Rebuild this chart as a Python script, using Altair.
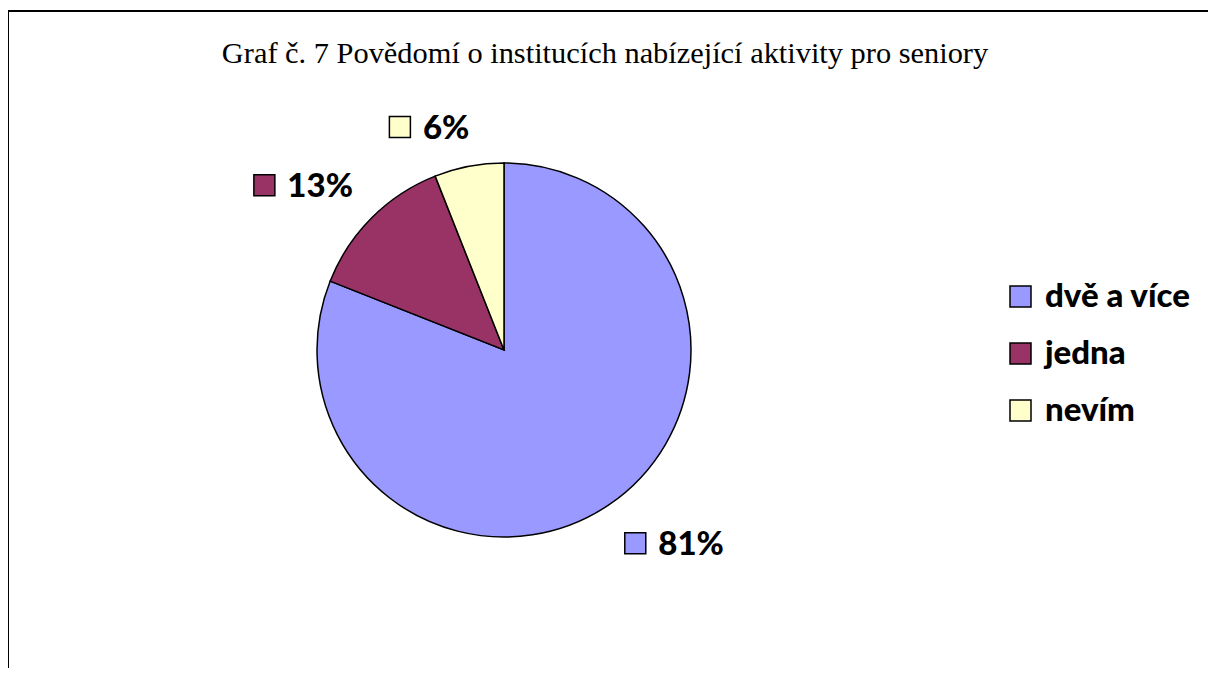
import altair as alt
import pandas as pd

# ---- data ----
kategorie = ["dvě a více", "jedna", "nevím"]
hodnoty = [81, 13, 6]
popisky = ["81%", "13%", "6%"]
barvy = ["#9999FF", "#993366", "#FFFFCC"]
nadpis = "Graf č. 7 Povědomí o institucích nabízející aktivity pro seniory"

df = pd.DataFrame({"kat": kategorie, "hodnota": hodnoty, "popisek": popisky})

# ---- layout / style ----
W, H = 1200, 660
CX, CY, R = 496, 342, 187          # pie centre and radius (px)
RL = 230                           # radius where data labels are anchored
FS = 33                            # label / legend font size
# per-category offset of the label square from the bisector point
sq_dx = {"dvě a více": 2, "jedna": -77, "nevím": -61}
sq_dy = {"dvě a více": 3, "jedna": -2, "nevím": 3}

def case_expr(d):
    e = "0"
    for k, v in d.items():
        e = f"(datum.kat === '{k}' ? {v} : {e})"
    return e

order_expr = "indexof([" + ",".join(f"'{k}'" for k in kategorie) + "], datum.kat)"

color = alt.Color(
    "kat:N",
    scale=alt.Scale(domain=kategorie, range=barvy),
    sort=kategorie,
    legend=alt.Legend(
        title=None, orient="none", legendX=996, legendY=272,
        direction="vertical", symbolType="square", symbolSize=441,
        symbolStrokeColor="black", symbolStrokeWidth=1.5, symbolOpacity=1,
        labelFont="Lato", labelFontSize=FS, labelFontWeight=900,
        labelColor="black", labelOffset=8, rowPadding=23, padding=0,
    ),
)

base = alt.Chart(df).transform_calculate(ord=order_expr)

pie = base.mark_arc(radius=R, stroke="black", strokeWidth=1.5).encode(
    theta=alt.Theta("hodnota:Q", stack=True),
    color=color,
    order=alt.Order("ord:Q"),
    x=alt.value(CX),
    y=alt.value(CY),
)

lab = (
    base.transform_joinaggregate(total="sum(hodnota)")
    .transform_window(cum="sum(hodnota)", sort=[alt.SortField("ord")], frame=[None, 0])
    .transform_calculate(mid="(datum.cum - datum.hodnota/2)/datum.total*2*PI")
    .transform_calculate(
        sx=f"{CX} + {RL}*sin(datum.mid) + " + case_expr(sq_dx),
        sy=f"{CY} - {RL}*cos(datum.mid) + " + case_expr(sq_dy),
    )
    .transform_calculate(tx="datum.sx + 23", ty="datum.sy + 12")
)

squares = lab.mark_point(
    shape="square", size=441, filled=True, stroke="black", strokeWidth=1.5, opacity=1
).encode(
    x=alt.X("sx:Q", scale=None),
    y=alt.Y("sy:Q", scale=None),
    fill=alt.Fill("kat:N", scale=alt.Scale(domain=kategorie, range=barvy), legend=None),
)

texts = lab.mark_text(
    font="Lato", fontSize=FS, fontWeight=900, align="left",
    baseline="alphabetic", color="black",
).encode(
    x=alt.X("tx:Q", scale=None),
    y=alt.Y("ty:Q", scale=None),
    text="popisek:N",
)

one = alt.Data(values=[{"a": 1}])
title = alt.Chart(one).mark_text(
    text=nadpis, font="Liberation Serif", fontSize=30.4, align="center",
    baseline="alphabetic", color="black",
).encode(x=alt.value(597), y=alt.value(55))

border_top = alt.Chart(one).mark_rule(color="black", strokeWidth=2).encode(
    x=alt.value(0), x2=alt.value(W), y=alt.value(3)
)
border_left = alt.Chart(one).mark_rule(color="black", strokeWidth=2).encode(
    x=alt.value(0), y=alt.value(3), y2=alt.value(H)
)

chart = (
    alt.layer(border_top, border_left, title, pie, squares, texts)
    .resolve_scale(fill="independent")
    .properties(width=W, height=H, padding=0, autosize=alt.AutoSizeParams(type="none"),
                background="white")
    .configure_view(stroke=None)
)

chart.save("out.html", embed_options={"renderer": "svg", "actions": False})
